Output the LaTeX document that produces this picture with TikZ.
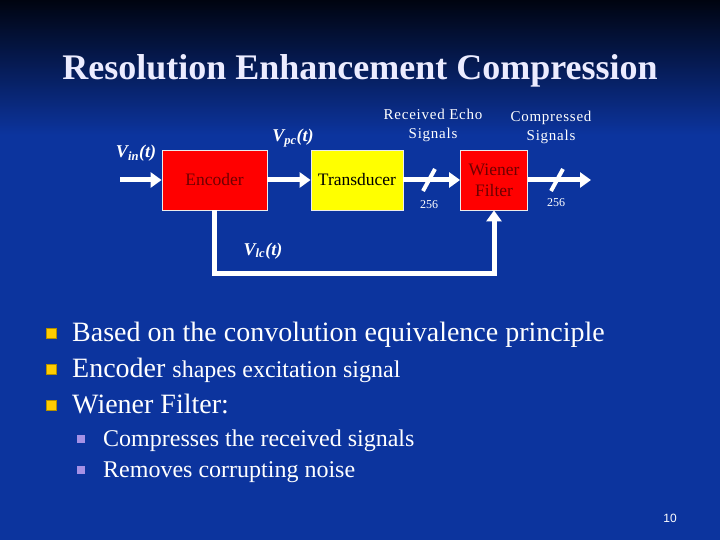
\documentclass[tikz,border=0pt]{standalone}
\usepackage{fontspec}
\setmainfont{Liberation Serif}
\newfontfamily\sansf{Liberation Sans}
\usetikzlibrary{arrows.meta,calc}
\definecolor{bodyblue}{RGB}{12,52,158}
\definecolor{topdark}{RGB}{0,4,16}
\definecolor{titlecol}{RGB}{236,236,255}
\definecolor{encred}{RGB}{255,0,0}
\definecolor{txtred}{RGB}{110,0,0}
\definecolor{tdyellow}{RGB}{255,255,0}
\definecolor{bulyellow}{RGB}{255,204,0}
\definecolor{bullav}{RGB}{165,145,230}
\begin{document}
\begin{tikzpicture}[x=1pt,y=-1pt,
  blockbox/.style={draw=white!85!gray, line width=0.8pt, minimum height=60pt, inner sep=0pt,
    font=\fontsize{17.5}{21}\selectfont, align=center},
  sig/.style={draw=white, line width=5pt, -{Triangle[length=11pt,width=15pt]}},
  slashmark/.style={draw=white, line width=4pt},
  vlabel/.style={text=white, font=\fontsize{18}{20}\selectfont\bfseries\itshape, anchor=base, inner sep=0pt},
  toplabel/.style={text=white, font=\fontsize{15}{19}\selectfont\addfontfeature{LetterSpace=5}, align=center, inner sep=0pt},
  numlabel/.style={text=white, font=\fontsize{12}{13}\selectfont, anchor=base, inner sep=0pt},
  lvlone/.style={text=white, font=\fontsize{28}{30}\selectfont, anchor=base west, inner sep=0pt},
  lvltwo/.style={text=white, font=\fontsize{24}{26}\selectfont, anchor=base west, inner sep=0pt},
  bulone/.style={fill=bulyellow, draw=bulyellow!70!black, line width=0.3pt, minimum size=10.5pt, inner sep=0pt},
  bultwo/.style={fill=bullav, minimum size=8.5pt, inner sep=0pt}
]
\useasboundingbox (0,0) rectangle (720,540);
\fill[bodyblue] (0,0) rectangle (720,540);
\shade[top color=topdark, bottom color=bodyblue] (0,0) rectangle (720,135);

% title
\node[text=titlecol, font=\fontsize{36}{40}\selectfont\bfseries, anchor=base, inner sep=0pt] (title) at (360,80) {Resolution Enhancement Compression};

% blocks
\node[blockbox, fill=encred, text=txtred, minimum width=105pt] (enc) at (214.5,180) {Encoder};
\node[blockbox, fill=tdyellow, text=black, minimum width=92pt] (td) at (357,180) {Transducer};
\node[blockbox, fill=encred, text=txtred, minimum width=67pt] (wf) at (494,180) {Wiener\\Filter};

\coordinate (in) at (120,180);
\coordinate (out) at (591,180);
\coordinate (fb) at (216,273);

\draw[sig] (in) -- (enc.west);
\draw[sig] (enc.east) -- (td.west);
\draw[sig] (td.east) -- (wf.west);
\draw[sig] (wf.east) -- (out);
\draw[sig] (enc.south) -- (enc.south |- fb) -| (wf.south);

% bus slashes
\coordinate (s1) at (429,180);
\coordinate (s2) at (557,180);
\draw[slashmark] ($(s1)+(-6,11)$) -- ($(s1)+(6,-11)$);
\draw[slashmark] ($(s2)+(-6,11)$) -- ($(s2)+(6,-11)$);
\node[numlabel] (n1) at (429,209) {256};
\node[numlabel] (n2) at (556,207) {256};

% labels
\node[vlabel] (vin) at (136,158) {V\textsubscript{in}(t)};
\node[vlabel] (vpc) at (293,142) {V\textsubscript{pc}(t)};
\node[vlabel] (vlc) at (263,255) {V\textsubscript{lc}(t)};
\node[toplabel] (rec) at (433,125) {Received Echo\\Signals};
\node[toplabel] (comp) at (551,127.5) {Compressed\\Signals};

% bullets
\node[bulone] (b1) at (51,333) {};
\node[lvlone] (t1) at (72,341) {Based on the convolution equivalence principle};
\node[bulone] (b2) at (51,369) {};
\node[lvlone] (t2) at (72,377) {Encoder {\fontsize{24}{26}\selectfont shapes excitation signal}};
\node[bulone] (b3) at (51,405) {};
\node[lvlone] (t3) at (72,413) {Wiener Filter:};
\node[bultwo] (b4) at (81,439) {};
\node[lvltwo] (t4) at (103,446) {Compresses the received signals};
\node[bultwo] (b5) at (81,470) {};
\node[lvltwo] (t5) at (103,477) {Removes corrupting noise};

% page number
\node[text=white, font=\sansf\fontsize{12}{14}\selectfont, inner sep=0pt] (pg) at (670,518) {10};
\end{tikzpicture}
\end{document}
